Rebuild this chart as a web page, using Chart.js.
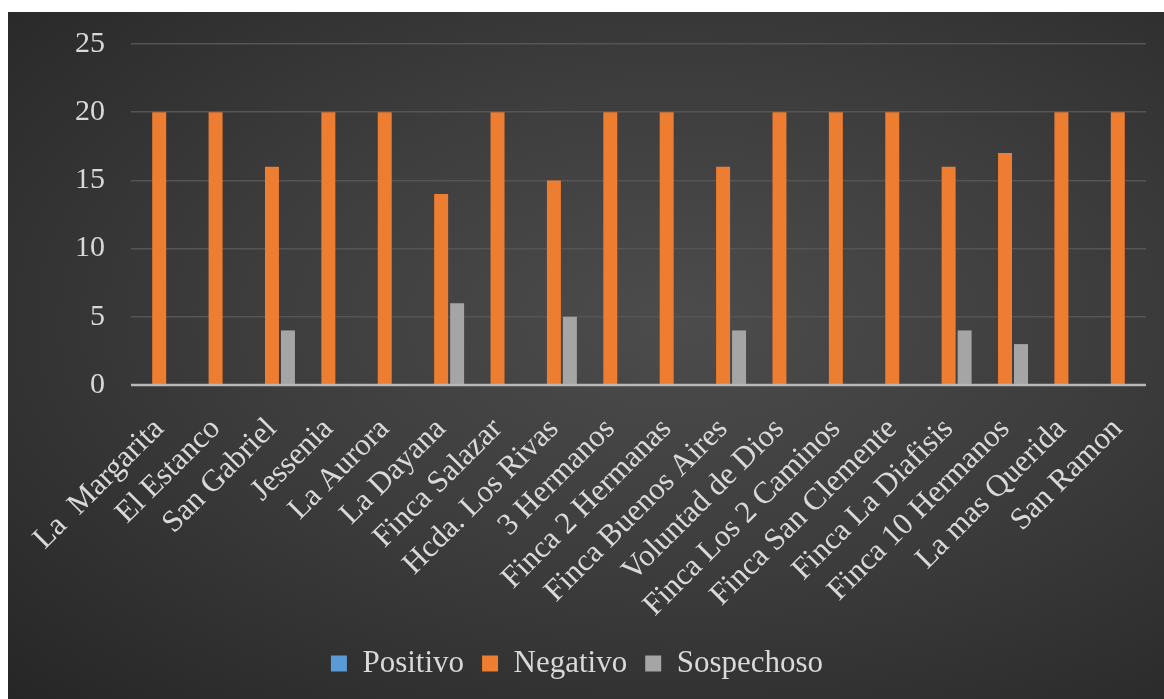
<!DOCTYPE html>
<html lang="es">
<head>
  <meta charset="UTF-8" />
  <title>Resultados por finca</title>
  <script src="https://cdn.jsdelivr.net/npm/chart.js"></script>
  <style>
    * { box-sizing: border-box; margin: 0; padding: 0; }
    body { background: #fff; width: 1164px; height: 699px; overflow: hidden; }
    .panel { position: absolute; left: 8px; top: 12px; width: 1156px; height: 687px;
      background: radial-gradient(ellipse at 58% 45%, #4c4c4c 0%, #3d3d3d 45%, #262626 100%); }
    canvas { display: block; }
  </style>
</head>
<body>
  <div class="panel"><canvas id="barChart"></canvas></div>

  <script>
    const fincas = ["La  Margarita", "El Estanco", "San Gabriel", "Jessenia", "La Aurora", "La Dayana",
      "Finca Salazar", "Hcda. Los Rivas", "3 Hermanos", "Finca 2 Hermanas", "Finca Buenos Aires",
      "Voluntad de Dios", "Finca Los 2 Caminos", "Finca San Clemente", "Finca La Diafisis",
      "Finca 10 Hermanos", "La mas Querida", "San Ramon"];
    const positivo   = [0, 0, 0, 0, 0, 0, 0, 0, 0, 0, 0, 0, 0, 0, 0, 0, 0, 0];
    const negativo   = [20, 20, 16, 20, 20, 14, 20, 15, 20, 20, 16, 20, 20, 20, 16, 17, 20, 20];
    const sospechoso = [0, 0, 4, 0, 0, 6, 0, 5, 0, 0, 4, 0, 0, 0, 4, 3, 0, 0];

    const serif = "'Liberation Serif', 'Times New Roman', serif";

    const ctx = document.getElementById("barChart").getContext("2d");
    new Chart(ctx, {
      type: "bar",
      data: {
        labels: fincas,
        datasets: [
          { label: "Positivo", data: positivo, backgroundColor: "#5B9BD5" },
          { label: "Negativo", data: negativo, backgroundColor: "#ED7D31" },
          { label: "Sospechoso", data: sospechoso, backgroundColor: "#A5A5A5" }
        ]
      },
      options: {
        responsive: true,
        maintainAspectRatio: false,
        animation: false,
        datasets: { bar: { categoryPercentage: 0.85, barPercentage: 0.875 } },
        layout: { padding: { top: 32, right: 18, bottom: 10, left: 0 } },
        scales: {
          x: {
            grid: { display: false, drawTicks: false },
            border: { display: false },
            ticks: { autoSkip: false, color: "#d9d9d9", font: { family: serif, size: 31 }, minRotation: 45, maxRotation: 45, padding: 26 },
            afterFit: axis => { axis.height = 245; axis.paddingLeft = 0; axis.paddingRight = 0; }
          },
          y: {
            min: 0, max: 25,
            ticks: { stepSize: 5, color: "#d9d9d9", font: { family: serif, size: 30 }, padding: 26 },
            grid: { color: "#555555", lineWidth: 1.5, drawTicks: false },
            border: { display: false },
            afterFit: axis => { axis.width = 123; axis.paddingTop = 0; }
          }
        },
        plugins: {
          legend: {
            position: "bottom",
            labels: { color: "#d9d9d9", font: { family: serif, size: 31 }, boxWidth: 16, boxHeight: 16, padding: 18 }
          },
          tooltip: { enabled: false }
        }
      },
      plugins: [{
        id: "baseLine",
        afterDatasetsDraw(chart) {
          const { ctx, chartArea, scales } = chart;
          const y0 = scales.y.getPixelForValue(0);
          ctx.save();
          ctx.strokeStyle = "#b8b8b8";
          ctx.lineWidth = 2.5;
          ctx.beginPath();
          ctx.moveTo(chartArea.left, y0);
          ctx.lineTo(chartArea.right, y0);
          ctx.stroke();
          ctx.restore();
        }
      }]
    });
  </script>
</body>
</html>
